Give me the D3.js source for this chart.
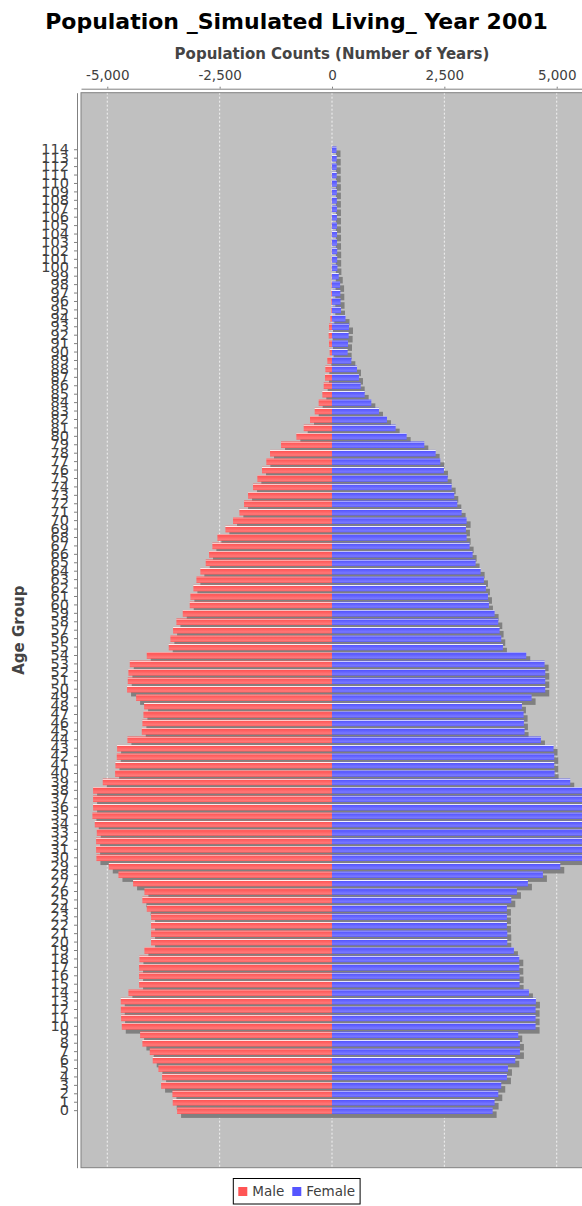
<!DOCTYPE html>
<html>
<head>
<meta charset="utf-8">
<script src="https://cdn.jsdelivr.net/npm/d3@7"></script>
<style>
  html, body { margin: 0; padding: 0; background: #fff; overflow: hidden; }
  svg { display: block; font-family: "DejaVu Sans", sans-serif; }
</style>
</head>
<body>
<div id="chart"></div>
<script>
// age groups, bottom (0) to top (114)
const ages = [
  0, 1, 2, 3, 4, 5, 6, 7, 8, 9, 10, 11, 12, 13, 14, 15, 16, 17, 18, 19,
  20, 21, 22, 23, 24, 25, 26, 27, 28, 29, 30, 31, 32, 33, 34, 35, 36, 37, 38, 39,
  40, 41, 42, 43, 44, 45, 46, 47, 48, 49, 50, 51, 52, 53, 54, 55, 56, 57, 58, 59,
  60, 61, 62, 63, 64, 65, 66, 67, 68, 69, 70, 71, 72, 73, 74, 75, 76, 77, 78, 79,
  80, 81, 82, 83, 84, 85, 86, 87, 88, 89, 90, 91, 92, 93, 94, 95, 96, 97, 98, 99,
  100, 101, 102, 103, 104, 105, 106, 107, 108, 109, 110, 111, 112, 113, 114
];

// male counts (negative side), one per age
const male = [
  -3447, -3544, -3551, -3803, -3781, -3863, -3989, -4055, -4219, -4270,
  -4678, -4693, -4700, -4700, -4530, -4293, -4293, -4293, -4285, -4174,
  -4026, -4026, -4026, -4026, -4122, -4219, -4174, -4426, -4752, -4967,
  -5242, -5249, -5249, -5234, -5279, -5331, -5316, -5316, -5316, -5101,
  -4826, -4819, -4789, -4782, -4552, -4233, -4219, -4196, -4181, -4359,
  -4560, -4545, -4530, -4500, -4122, -3633, -3596, -3536, -3462, -3321,
  -3166, -3151, -3084, -3017, -2929, -2810, -2736, -2662, -2550, -2372,
  -2202, -2061, -1957, -1868, -1757, -1661, -1557, -1461, -1379, -1134,
  -793, -630, -489, -385, -297, -215, -185, -156, -148, -104,
  -52, -67, -74, -67, -37, -15, -15, -15, -10, -5,
  -4, -4, -3, -3, -3, -3, -2, -2, -2, -2, -2, -2, -2, -2, -2
];

// female counts (positive side), one per age
const female = [
  3574, 3618, 3700, 3766, 3892, 3915, 4078, 4181, 4181, 4144,
  4530, 4530, 4530, 4537, 4382, 4174, 4174, 4167, 4167, 4048,
  3900, 3900, 3892, 3892, 3892, 3989, 4115, 4359, 4693, 5079,
  5650, 5720, 5760, 5780, 5800, 5820, 5790, 5760, 5640, 5301,
  4953, 4945, 4945, 4930, 4649, 4285, 4270, 4263, 4226, 4441,
  4745, 4745, 4745, 4730, 4322, 3803, 3766, 3729, 3700, 3618,
  3492, 3470, 3425, 3381, 3307, 3195, 3129, 3062, 2995, 2980,
  2995, 2884, 2788, 2721, 2662, 2573, 2491, 2410, 2306, 2054,
  1661, 1416, 1223, 1045, 875, 727, 638, 600, 556, 430,
  348, 356, 370, 378, 300, 200, 190, 185, 180, 150,
  120, 115, 115, 112, 112, 110, 110, 110, 108, 108, 108, 105, 105, 105, 100
];

const xTicks = [-5000, -2500, 0, 2500, 5000];
const seriesNames = ["Male", "Female"];
const seriesColors = ["#ff5555", "#5555ff"];
const seriesBright = ["#ff7979", "#7979ff"];

const width = 600, height = 1206;
const plot = { left: 81, right: 583, top: 92.7, bottom: 1167.7 };

const svg = d3.select("#chart").append("svg")
  .attr("width", width)
  .attr("height", height);

const defs = svg.append("defs");
defs.append("clipPath").attr("id", "plotClip")
  .append("rect")
  .attr("x", plot.left).attr("y", plot.top)
  .attr("width", plot.right - plot.left).attr("height", plot.bottom - plot.top);

// gradient bar painter look
seriesColors.forEach((c, i) => {
  const g = defs.append("linearGradient")
    .attr("id", "grad" + i)
    .attr("x1", 0).attr("y1", 0).attr("x2", 0).attr("y2", 1);
  g.append("stop").attr("offset", 0).attr("stop-color", c);
  g.append("stop").attr("offset", 0.1).attr("stop-color", "#ffffff");
  g.append("stop").attr("offset", 0.2).attr("stop-color", c);
  g.append("stop").attr("offset", 0.8).attr("stop-color", seriesBright[i]);
  g.append("stop").attr("offset", 1).attr("stop-color", c);
});

// scales
const x = d3.scaleLinear()
  .domain([-5585, 5585])
  .range([plot.left, plot.right]);

const y = d3.scaleBand()
  .domain(ages)
  .range([plot.bottom, plot.top])
  .paddingInner(0.2237)
  .paddingOuter(6.38);

// title
svg.append("text")
  .attr("x", 296.5)
  .attr("y", 28.5)
  .attr("text-anchor", "middle")
  .style("font-size", "22px")
  .style("font-weight", "bold")
  .style("fill", "#000")
  .text("Population _Simulated Living_ Year 2001");

// plot background
svg.append("rect")
  .attr("x", plot.left).attr("y", plot.top)
  .attr("width", plot.right - plot.left).attr("height", plot.bottom - plot.top)
  .style("fill", "#c0c0c0");

// gridlines
svg.append("g")
  .selectAll("line")
  .data(xTicks)
  .join("line")
  .attr("x1", d => x(d)).attr("x2", d => x(d))
  .attr("y1", plot.top).attr("y2", plot.bottom)
  .style("stroke", "#ffffff")
  .style("stroke-width", 0.8)
  .style("stroke-dasharray", "2,2");

// bar data
const rows = [];
ages.forEach((a, i) => {
  rows.push({ age: a, s: 0, v0: male[i], v1: 0 });
  rows.push({ age: a, s: 1, v0: 0, v1: female[i] });
});

const bars = svg.append("g").attr("clip-path", "url(#plotClip)");

// shadows first
bars.append("g")
  .selectAll("rect")
  .data(rows)
  .join("rect")
  .attr("x", d => x(d.v0) + 4)
  .attr("y", d => y(d.age) + 4)
  .attr("width", d => x(d.v1) - x(d.v0))
  .attr("height", y.bandwidth())
  .style("fill", "#808080");

bars.append("g")
  .selectAll("rect")
  .data(rows)
  .join("rect")
  .attr("x", d => x(d.v0))
  .attr("y", d => y(d.age))
  .attr("width", d => x(d.v1) - x(d.v0))
  .attr("height", y.bandwidth())
  .style("fill", d => `url(#grad${d.s})`);

// plot outline
svg.append("rect")
  .attr("x", plot.left).attr("y", plot.top)
  .attr("width", plot.right - plot.left).attr("height", plot.bottom - plot.top)
  .style("fill", "none")
  .style("stroke", "#808080")
  .style("stroke-width", 1);

// top value axis
const fmt = d3.format(",");
const xAxis = d3.axisTop(x)
  .tickValues(xTicks)
  .tickSize(2)
  .tickSizeOuter(0)
  .tickPadding(6.5)
  .tickFormat(d => fmt(d).replace("\u2212", "-"));

const gx = svg.append("g")
  .attr("transform", `translate(0,${plot.top - 4})`)
  .call(xAxis);
gx.select(".domain").style("stroke", "#808080");
gx.selectAll(".tick line").style("stroke", "#808080");
gx.selectAll(".tick text")
  .style("font-size", "13.5px")
  .style("font-family", "DejaVu Sans")
  .style("fill", "#404040");

svg.append("text")
  .attr("x", (plot.left + plot.right) / 2)
  .attr("y", 59)
  .attr("text-anchor", "middle")
  .style("font-size", "15px")
  .style("font-weight", "bold")
  .style("fill", "#444444")
  .text("Population Counts (Number of Years)");

// left category axis
const yAxis = d3.axisLeft(y)
  .tickSize(3)
  .tickSizeOuter(0)
  .tickPadding(5);

const gy = svg.append("g")
  .attr("transform", `translate(${plot.left - 4},0)`)
  .call(yAxis);
gy.select(".domain").style("stroke", "#808080");
gy.selectAll(".tick line").style("stroke", "#808080");
gy.selectAll(".tick text")
  .style("font-size", "14.5px")
  .style("font-family", "DejaVu Sans")
  .style("fill", "#404040");

svg.append("text")
  .attr("transform", `translate(23.5,${(plot.top + plot.bottom) / 2}) rotate(-90)`)
  .attr("text-anchor", "middle")
  .style("font-size", "15px")
  .style("font-weight", "bold")
  .style("fill", "#444444")
  .text("Age Group");

// legend
const legend = svg.append("g");
const legendBox = legend.append("rect")
  .style("fill", "#fff")
  .style("stroke", "#000")
  .style("stroke-width", 1);

let lx = 0;
const items = legend.selectAll("g.item")
  .data(seriesNames)
  .join("g")
  .attr("class", "item");

items.each(function(name, i) {
  const g = d3.select(this);
  g.append("rect")
    .attr("x", lx).attr("y", -4.5)
    .attr("width", 9).attr("height", 9)
    .style("fill", seriesColors[i]);
  const t = g.append("text")
    .attr("x", lx + 14)
    .attr("y", 4.8)
    .style("font-size", "13.5px")
    .style("fill", "#404040")
    .text(name);
  lx += 14 + t.node().getComputedTextLength() + 8;
});

const legendW = lx - 8 + 10;
const legendCx = 296.7, legendCy = 1191.5;
items.attr("transform", `translate(${legendCx - legendW / 2 + 5},${legendCy})`);
legendBox
  .attr("x", legendCx - legendW / 2)
  .attr("y", 1178.5)
  .attr("width", legendW)
  .attr("height", 25.5);
</script>
</body>
</html>
